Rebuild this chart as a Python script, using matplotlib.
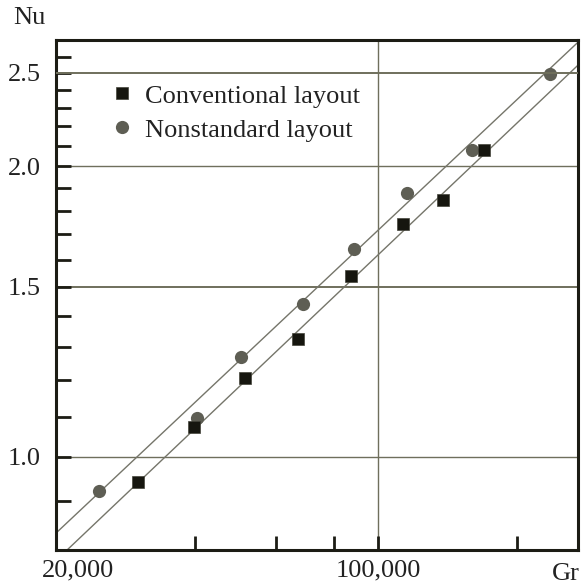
import numpy as np
import matplotlib.pyplot as plt
from matplotlib.transforms import ScaledTranslation

# Conventional layout (squares)
conv_gr = [30100, 39800, 51500, 67100, 87400, 113300, 138300, 169600]
conv_nu = [0.942, 1.074, 1.207, 1.323, 1.541, 1.742, 1.845, 2.079]

# Nonstandard layout (circles)
nons_gr = [24800, 40400, 50300, 68500, 88700, 115600, 159800, 235700]
nons_nu = [0.922, 1.097, 1.270, 1.441, 1.641, 1.876, 2.079, 2.494]

# fitted lines, end points
fit_upper_gr = [20000, 270000]
fit_upper_nu = [0.833, 2.686]
fit_lower_gr = [21020, 271000]
fit_lower_nu = [0.798, 2.547]

y_grid = [1.0, 1.5, 2.0, 2.5]
y_minor = [0.9, 1.1, 1.2, 1.3, 1.4, 1.6, 1.7, 1.8, 1.9, 2.1, 2.2, 2.3, 2.4, 2.6]
x_ticks = [40000, 60000, 80000, 100000, 200000]
x_labels = ["20,000", "100,000"]

plt.rcParams['font.family'] = 'Liberation Serif'
plt.rcParams['font.size'] = 19

fig = plt.figure(figsize=(5.81, 5.87), dpi=100)
ax = fig.add_axes([0.0964, 0.0630, 0.8984, 0.8689])
ax.set_xscale('log')
ax.set_yscale('log')
ax.set_xlim(20000, 271000)
ax.set_ylim(0.8, 2.705)

dark = '#1c1c14'
grid_c = '#6f6f5c'

for v in y_grid:
    lw = 1.4 if v in (1.5, 2.5) else 1.0
    ax.axhline(v, color=grid_c, lw=lw, zorder=6 if v == 2.5 else 1)
ax.axvline(100000, color=grid_c, lw=1.0, zorder=1)

ax.plot(fit_upper_gr, fit_upper_nu, color='#75756a', lw=1.0, zorder=2)
ax.plot(fit_lower_gr, fit_lower_nu, color='#75756a', lw=1.0, zorder=2)

ax.plot(conv_gr, conv_nu, 's', color='#16160f', markersize=8.5,
        markeredgecolor='#44443a', markeredgewidth=0.5, label='Conventional layout', zorder=4)
ax.plot(nons_gr, nons_nu, 'o', color='#5e5e54', markersize=9.5,
        markeredgewidth=0, label='Nonstandard layout', zorder=3)

for s in ax.spines.values():
    s.set_linewidth(2.2)
    s.set_color(dark)

ax.xaxis.set_minor_locator(plt.NullLocator())
ax.yaxis.set_minor_locator(plt.NullLocator())
ax.set_yticks(y_grid + y_minor)
ax.set_yticklabels([f"{v:.1f}" if v in y_grid else "" for v in y_grid + y_minor])
ax.tick_params(axis='y', direction='in', length=11, width=2, color=dark, pad=11,
               labelcolor='#222222')

ax.set_xticks([20000] + x_ticks)
ax.set_xticklabels([x_labels[0], "", "", "", x_labels[1], ""])
ax.tick_params(axis='x', direction='in', length=10, width=2, color=dark, pad=7,
               labelcolor='#222222')
ax.xaxis.get_major_ticks()[0].tick1line.set_visible(False)
lab0 = ax.get_xticklabels()[0]
lab0.set_transform(lab0.get_transform() + ScaledTranslation(0.22, 0, fig.dpi_scale_trans))

fig.text(29 / 581, 1 - 18 / 587, "Nu", ha='center', va='center', color='#222222')
fig.text(566 / 581, 1 - 574 / 587, "Gr", ha='center', va='center', color='#222222')

leg = ax.legend(loc='upper left', bbox_to_anchor=(0.06, 0.955), frameon=True,
                facecolor='white', edgecolor='none', framealpha=1, fancybox=False,
                handletextpad=0.4, labelspacing=0.4, borderpad=0.3,
                handlelength=1.0, fontsize=19)
for t in leg.get_texts():
    t.set_color('#222222')
leg.set_zorder(5)

fig.savefig('out.png', dpi=100)
